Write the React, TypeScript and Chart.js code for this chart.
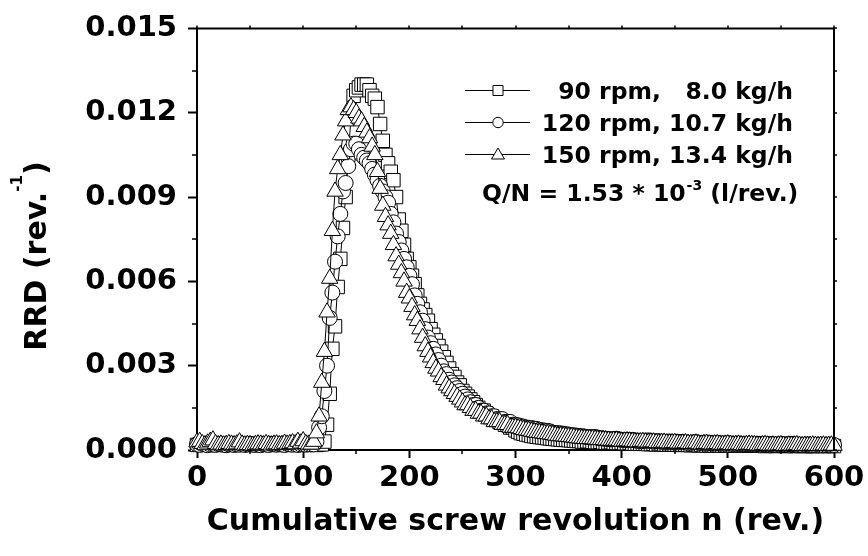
import React, { useEffect, useRef } from 'react';
import { Chart, registerables } from 'chart.js';

Chart.register(...registerables);

// Cumulative screw revolution n (rev.)
const REV = [
  0, 2.5, 5, 7.5, 10, 12.5, 15, 17.5, 20, 22.5,
  25, 27.5, 30, 32.5, 35, 37.5, 40, 42.5, 45, 47.5,
  50, 52.5, 55, 57.5, 60, 62.5, 65, 67.5, 70, 72.5,
  75, 77.5, 80, 82.5, 85, 87.5, 90, 92.5, 95, 97.5,
  100, 102.5, 105,
  107.5, 110, 112.5, 115, 117.5, 120, 122.5, 125, 127.5, 130,
  132.5, 135, 137.5, 140, 142.5, 145, 147.5, 150, 152.5, 155,
  157.5, 160, 162.5, 165, 167.5, 170, 172.5, 175, 177.5, 180,
  182.5, 185, 187.5, 190, 192.5, 195, 197.5, 200, 202.5, 205,
  207.5, 210, 212.5, 215, 217.5, 220, 222.5, 225, 227.5, 230,
  232.5, 235, 237.5, 240, 242.5, 245, 247.5, 250, 252.5, 255,
  257.5, 260, 262.5, 265, 267.5, 270, 272.5, 275, 277.5, 280,
  282.5, 285, 287.5, 290, 292.5, 295, 297.5, 300,
  302.5, 305, 307.5, 310, 312.5, 315, 317.5, 320, 322.5, 325,
  327.5, 330, 332.5, 335, 337.5, 340, 342.5, 345, 347.5, 350,
  352.5, 355, 357.5, 360, 362.5, 365, 367.5, 370, 372.5, 375,
  377.5, 380, 382.5, 385, 387.5, 390, 392.5, 395, 397.5, 400,
  402.5, 405, 407.5, 410, 412.5, 415, 417.5, 420, 422.5, 425,
  427.5, 430, 432.5, 435, 437.5, 440, 442.5, 445, 447.5, 450,
  452.5, 455, 457.5, 460, 462.5, 465, 467.5, 470, 472.5, 475,
  477.5, 480, 482.5, 485, 487.5, 490, 492.5, 495, 497.5, 500,
  502.5, 505, 507.5, 510, 512.5, 515, 517.5, 520, 522.5, 525,
  527.5, 530, 532.5, 535, 537.5, 540, 542.5, 545, 547.5, 550,
  552.5, 555, 557.5, 560, 562.5, 565, 567.5, 570, 572.5, 575,
  577.5, 580, 582.5, 585, 587.5, 590, 592.5, 595, 597.5, 600,
];

// 90 rpm, 8.0 kg/h (squares)
const RRD_90 = [
  0.00018, 0.0002, 0.00019, 0.00021, 0.0002, 0.00018, 0.00019, 0.0002, 0.00022, 0.00019,
  0.0002, 0.00018, 0.00021, 0.0002, 0.00019, 0.00018, 0.0002, 0.00021, 0.00019, 0.0002,
  0.00018, 0.00021, 0.0002, 0.00019, 0.00022, 0.0002, 0.00018, 0.00019, 0.0002, 0.00021,
  0.00019, 0.0002, 0.00018, 0.00021, 0.0002, 0.00019, 0.00022, 0.0002, 0.00018, 0.00019,
  0.0002, 0.00021, 0.00019,
  0.0002, 0.0002, 0.00018, 0.0002, 0.0002, 0.0003, 0.0009, 0.002, 0.0036, 0.0044,
  0.0058, 0.0068, 0.0079, 0.009, 0.0105, 0.0118, 0.0126, 0.0128, 0.0129, 0.013,
  0.013, 0.013, 0.0128, 0.0126, 0.0125, 0.0122, 0.0116, 0.011, 0.0105, 0.0102,
  0.0099, 0.0096, 0.009, 0.0082, 0.0078, 0.0073, 0.0068, 0.0065, 0.0062, 0.0059,
  0.0055, 0.0052, 0.005, 0.0048, 0.0046, 0.0043, 0.0041, 0.0039, 0.0037, 0.0035,
  0.0033, 0.0031, 0.0029, 0.0027, 0.0026, 0.0024, 0.0023, 0.0021, 0.002, 0.0019,
  0.0018, 0.0017, 0.0016, 0.0015, 0.0014, 0.0014, 0.0013, 0.0012, 0.0012, 0.0011,
  0.0011, 0.001, 0.001, 0.0009, 0.0009, 0.0008, 0.0008, 0.0007,
  0.00065, 0.0006, 0.00058, 0.00055, 0.00053, 0.0005, 0.00049, 0.00047, 0.00046, 0.00045,
  0.00044, 0.00042, 0.00041, 0.0004, 0.00039, 0.00038, 0.00037, 0.00036, 0.00036, 0.00035,
  0.00034, 0.00033, 0.00032, 0.00032, 0.0003, 0.0003, 0.00031, 0.00031, 0.00029, 0.00028,
  0.00028, 0.00029, 0.00027, 0.00026, 0.00027, 0.00028, 0.00026, 0.00025, 0.00025, 0.00026,
  0.00024, 0.00024, 0.00025, 0.00023, 0.00022, 0.00023, 0.00022, 0.00022, 0.00023, 0.00021,
  0.00021, 0.00022, 0.0002, 0.00021, 0.00021, 0.0002, 0.00019, 0.0002, 0.0002, 0.00019,
  0.00019, 0.00018, 0.00019, 0.00019, 0.00018, 0.00017, 0.00018, 0.00018, 0.00017, 0.00018,
  0.00017, 0.00016, 0.00017, 0.00017, 0.00016, 0.00017, 0.00016, 0.00016, 0.00017, 0.00015,
  0.00016, 0.00016, 0.00015, 0.00016, 0.00015, 0.00016, 0.00016, 0.00015, 0.00016, 0.00015,
  0.00015, 0.00016, 0.00015, 0.00014, 0.00016, 0.00015, 0.00015, 0.00014, 0.00015, 0.00016,
  0.00015, 0.00014, 0.00015, 0.00016, 0.00014, 0.00015, 0.00015, 0.00014, 0.00015, 0.00014,
  0.00015, 0.00014, 0.00014, 0.00015, 0.00016, 0.00014, 0.00015, 0.00014, 0.00015, 0.00014,
];

// 120 rpm, 10.7 kg/h (circles)
const RRD_120 = [
  0.0002, 0.00018, 0.00022, 0.0002, 0.00017, 0.00019, 0.0002, 0.00018, 0.00021, 0.0002,
  0.00019, 0.00017, 0.0002, 0.00022, 0.00018, 0.0002, 0.00019, 0.00021, 0.00018, 0.0002,
  0.00022, 0.00019, 0.00018, 0.0002, 0.00017, 0.00021, 0.0002, 0.00018, 0.00022, 0.0002,
  0.00019, 0.00021, 0.0002, 0.00018, 0.00022, 0.0002, 0.00019, 0.00021, 0.00018, 0.0002,
  0.00021, 0.00019, 0.0002,
  0.0002, 0.0002, 0.0003, 0.0008, 0.0012, 0.0021, 0.003, 0.0047, 0.0056, 0.0067,
  0.0076, 0.0084, 0.0092, 0.0095, 0.0101, 0.0107, 0.0109, 0.0109, 0.0107, 0.0105,
  0.0104, 0.0103, 0.0102, 0.01, 0.0098, 0.0096, 0.0094, 0.0092, 0.009, 0.0088,
  0.0084, 0.0081, 0.0077, 0.0074, 0.0071, 0.0068, 0.0065, 0.0062, 0.0059, 0.0055,
  0.0052, 0.0049, 0.0046, 0.0043, 0.004, 0.0038, 0.0036, 0.0034, 0.0032, 0.003,
  0.0028, 0.0027, 0.0025, 0.0024, 0.0023, 0.0022, 0.0021, 0.002, 0.0019, 0.0018,
  0.0017, 0.0016, 0.0016, 0.0015, 0.0014, 0.0014, 0.0013, 0.0013, 0.0012, 0.0012,
  0.0011, 0.0011, 0.0011, 0.001, 0.001, 0.001, 0.0009, 0.0009,
  0.00088, 0.00085, 0.00083, 0.0008, 0.00079, 0.00078, 0.00076, 0.00075, 0.00072, 0.0007,
  0.00069, 0.00068, 0.00066, 0.00062, 0.0006, 0.0006, 0.00059, 0.00058, 0.00056, 0.00055,
  0.00053, 0.00052, 0.00051, 0.0005, 0.00049, 0.00048, 0.00046, 0.00045, 0.00046, 0.00046,
  0.00044, 0.00042, 0.00041, 0.0004, 0.00039, 0.00038, 0.00039, 0.0004, 0.00038, 0.00036,
  0.00035, 0.00035, 0.00036, 0.00036, 0.00034, 0.00033, 0.00032, 0.00032, 0.00033, 0.00034,
  0.00032, 0.0003, 0.00031, 0.00031, 0.0003, 0.00029, 0.00029, 0.0003, 0.00029, 0.00028,
  0.00029, 0.00029, 0.00028, 0.00027, 0.00026, 0.00026, 0.00027, 0.00028, 0.00026, 0.00025,
  0.00026, 0.00026, 0.00025, 0.00024, 0.00024, 0.00025, 0.00024, 0.00023, 0.00023, 0.00024,
  0.00023, 0.00022, 0.00022, 0.00023, 0.00022, 0.00021, 0.00021, 0.00022, 0.00021, 0.0002,
  0.00021, 0.00022, 0.00021, 0.0002, 0.0002, 0.00021, 0.0002, 0.00019, 0.0002, 0.00021,
  0.0002, 0.0002, 0.00021, 0.00022, 0.0002, 0.00019, 0.00019, 0.00018, 0.00019, 0.0002,
  0.00019, 0.00018, 0.00018, 0.00019, 0.00018, 0.00017, 0.00018, 0.00019, 0.00018, 0.00018,
];

// 150 rpm, 13.4 kg/h (triangles)
const RRD_150 = [
  0.00028, 0.0003, 0.00022, 0.00018, 0.00024, 0.0003, 0.00035, 0.00022, 0.00018, 0.0002,
  0.00017, 0.00019, 0.00022, 0.0002, 0.00018, 0.00021, 0.00028, 0.0002, 0.00017, 0.00019,
  0.00018, 0.00016, 0.00019, 0.00021, 0.0002, 0.00018, 0.00022, 0.00019, 0.00017, 0.0002,
  0.00021, 0.00018, 0.00019, 0.00023, 0.0002, 0.00022, 0.00025, 0.00021, 0.0003, 0.00024,
  0.00032, 0.00022, 0.0002,
  0.0002, 0.0003, 0.0006, 0.0012, 0.0024, 0.0035, 0.0049, 0.0061, 0.0078, 0.0092,
  0.01, 0.0105, 0.0112, 0.0117, 0.0121, 0.0122, 0.0121, 0.012, 0.0118, 0.0117,
  0.0115, 0.0113, 0.0111, 0.0108, 0.0105, 0.0099, 0.0093, 0.0087, 0.0083, 0.008,
  0.0077, 0.0073, 0.0069, 0.0066, 0.0063, 0.006, 0.0056, 0.0054, 0.0051, 0.0048,
  0.0046, 0.0043, 0.004, 0.0037, 0.0035, 0.0033, 0.0031, 0.0029, 0.0028, 0.0026,
  0.0025, 0.0023, 0.0022, 0.0021, 0.002, 0.0019, 0.0018, 0.0017, 0.0016, 0.0016,
  0.0015, 0.0014, 0.0014, 0.0013, 0.0013, 0.0012, 0.0012, 0.0011, 0.0011, 0.001,
  0.001, 0.001, 0.0009, 0.0009, 0.0009, 0.0008, 0.0008, 0.0008,
  0.00078, 0.00075, 0.00072, 0.0007, 0.00069, 0.00066, 0.00064, 0.00062, 0.00061, 0.0006,
  0.00058, 0.00057, 0.00056, 0.00054, 0.00052, 0.0005, 0.0005, 0.00049, 0.00048, 0.00047,
  0.00046, 0.00045, 0.00043, 0.00042, 0.00041, 0.0004, 0.0004, 0.0004, 0.00039, 0.00038,
  0.00037, 0.00036, 0.00036, 0.00035, 0.00034, 0.00033, 0.00034, 0.00034, 0.00032, 0.0003,
  0.00031, 0.00032, 0.00031, 0.0003, 0.00029, 0.00028, 0.00029, 0.0003, 0.00028, 0.00027,
  0.00028, 0.00028, 0.00026, 0.00025, 0.00026, 0.00027, 0.00025, 0.00024, 0.00025, 0.00026,
  0.00024, 0.00023, 0.00024, 0.00025, 0.00023, 0.00022, 0.00023, 0.00024, 0.00021, 0.0002,
  0.00022, 0.00023, 0.00021, 0.0002, 0.00021, 0.00022, 0.0002, 0.00019, 0.0002, 0.00021,
  0.00019, 0.00018, 0.00019, 0.0002, 0.00018, 0.00017, 0.00019, 0.0002, 0.00019, 0.00018,
  0.00017, 0.00016, 0.00018, 0.00019, 0.00017, 0.00016, 0.00017, 0.00016, 0.00017, 0.00018,
  0.00016, 0.00015, 0.00017, 0.00016, 0.00017, 0.00018, 0.00016, 0.00015, 0.00016, 0.00015,
  0.00016, 0.00017, 0.00016, 0.00015, 0.00016, 0.00017, 0.00015, 0.00016, 0.00017, 0.00016,
];

const X_TICKS = [0, 100, 200, 300, 400, 500, 600];
const X_MINOR = [50, 150, 250, 350, 450, 550];
const Y_TICKS = [0, 0.003, 0.006, 0.009, 0.012, 0.015];
const Y_MINOR = [0.0015, 0.0045, 0.0075, 0.0105, 0.0135];

const SERIES_LABELS = ['90 rpm,   8.0 kg/h', '120 rpm, 10.7 kg/h', '150 rpm, 13.4 kg/h'];
const SERIES_STYLES = ['rect', 'circle', 'triangle'];
const NOTE_MAIN = 'Q/N = 1.53 * 10';
const NOTE_SUP = '-3';
const NOTE_TAIL = ' (l/rev.)';
const X_TITLE = 'Cumulative screw revolution n (rev.)';
const Y_TITLE_MAIN = 'RRD (rev.';
const Y_TITLE_SUP = '-1';
const Y_TITLE_TAIL = ')';

const FONT = '"DejaVu Sans", "Liberation Sans", Arial, sans-serif';

const toPoints = (ys: number[]) =>
  ys.map((y, i) => ({ x: REV[i], y })).filter((p) => p.x !== undefined);

function drawSymbol(ctx: CanvasRenderingContext2D, style: string, cx: number, cy: number) {
  ctx.beginPath();
  if (style === 'rect') {
    ctx.rect(cx - 5, cy - 5, 10, 10);
  } else if (style === 'circle') {
    ctx.arc(cx, cy, 5.2, 0, Math.PI * 2);
  } else {
    ctx.moveTo(cx, cy - 6.5);
    ctx.lineTo(cx + 6.5, cy + 4.5);
    ctx.lineTo(cx - 6.5, cy + 4.5);
    ctx.closePath();
  }
  ctx.fillStyle = '#fff';
  ctx.fill();
  ctx.strokeStyle = '#000';
  ctx.lineWidth = 1;
  ctx.stroke();
}

const decorPlugin = {
  id: 'decor',
  afterDraw(chart: any) {
    const { ctx, chartArea, scales } = chart;
    const xs = scales.x;
    const ys = scales.y;
    const { left, right, top, bottom } = chartArea;
    ctx.save();
    ctx.strokeStyle = '#000';
    ctx.fillStyle = '#000';

    // top and right frame
    ctx.lineWidth = 2;
    ctx.beginPath();
    ctx.moveTo(left - 1, top);
    ctx.lineTo(right, top);
    ctx.lineTo(right, bottom + 1);
    ctx.stroke();

    // minor ticks bottom / left
    ctx.lineWidth = 1.5;
    ctx.beginPath();
    X_MINOR.forEach((v) => {
      const px = Math.round(xs.getPixelForValue(v));
      ctx.moveTo(px, bottom);
      ctx.lineTo(px, bottom + 4);
    });
    Y_MINOR.forEach((v) => {
      const py = Math.round(ys.getPixelForValue(v));
      ctx.moveTo(left, py);
      ctx.lineTo(left - 5, py);
    });
    // small ticks on top / right
    [...X_TICKS, ...X_MINOR].forEach((v) => {
      const px = Math.round(xs.getPixelForValue(v));
      ctx.moveTo(px, top);
      ctx.lineTo(px, top - 3);
    });
    [...Y_TICKS, ...Y_MINOR].forEach((v) => {
      const py = Math.round(ys.getPixelForValue(v));
      ctx.moveTo(right, py);
      ctx.lineTo(right + 3, py);
    });
    ctx.stroke();

    // y axis title with superscript
    const mainFont = `bold 30px ${FONT}`;
    const supFont = `bold 15px ${FONT}`;
    ctx.font = mainFont;
    const w1 = ctx.measureText(Y_TITLE_MAIN).width;
    const w3 = ctx.measureText(Y_TITLE_TAIL).width;
    ctx.font = supFont;
    const w2 = ctx.measureText(Y_TITLE_SUP).width;
    const total = w1 + w2 + w3;
    ctx.save();
    ctx.translate(46, 256);
    ctx.rotate(-Math.PI / 2);
    ctx.textAlign = 'left';
    ctx.textBaseline = 'alphabetic';
    let tx = -total / 2;
    ctx.font = mainFont;
    ctx.fillText(Y_TITLE_MAIN, tx, 0);
    tx += w1;
    ctx.font = supFont;
    ctx.fillText(Y_TITLE_SUP, tx, -24);
    tx += w2;
    ctx.font = mainFont;
    ctx.fillText(Y_TITLE_TAIL, tx, 0);
    ctx.restore();

    // legend
    const rowBase = [98.5, 130.5, 162.5];
    SERIES_LABELS.forEach((label, i) => {
      const cy = rowBase[i] - 8.5;
      ctx.lineWidth = 1;
      ctx.strokeStyle = '#000';
      ctx.beginPath();
      ctx.moveTo(465, Math.round(cy) + 0.5);
      ctx.lineTo(530, Math.round(cy) + 0.5);
      ctx.stroke();
      drawSymbol(ctx, SERIES_STYLES[i], 498, Math.round(cy) + 0.5);
      ctx.fillStyle = '#000';
      ctx.font = `bold 23.5px ${FONT}`;
      ctx.textAlign = 'right';
      ctx.textBaseline = 'alphabetic';
      ctx.fillText(label, 793, rowBase[i]);
    });

    // Q/N note
    ctx.textAlign = 'left';
    ctx.textBaseline = 'alphabetic';
    ctx.font = `bold 23.5px ${FONT}`;
    let nx = 482;
    ctx.fillText(NOTE_MAIN, nx, 201);
    nx += ctx.measureText(NOTE_MAIN).width + 1;
    ctx.font = `bold 14px ${FONT}`;
    ctx.fillText(NOTE_SUP, nx, 190);
    nx += ctx.measureText(NOTE_SUP).width;
    ctx.font = `bold 23.5px ${FONT}`;
    ctx.fillText(NOTE_TAIL, nx, 201);

    ctx.restore();
  },
};

export default function App() {
  const ref = useRef<HTMLCanvasElement | null>(null);

  useEffect(() => {
    if (!ref.current) return;
    const common = {
      showLine: true,
      borderColor: '#000',
      borderWidth: 1,
      backgroundColor: '#fff',
      pointBackgroundColor: '#fff',
      pointBorderColor: '#000',
      pointBorderWidth: 1,
      tension: 0,
      fill: false,
      clip: false as any,
    };
    const tickFont = { family: FONT, size: 29, weight: 'bold' as const };
    const chart = new Chart(ref.current, {
      type: 'scatter',
      data: {
        datasets: [
          { ...common, label: SERIES_LABELS[0], data: toPoints(RRD_90), pointStyle: 'rect', pointRadius: 9.5, order: 3 },
          { ...common, label: SERIES_LABELS[1], data: toPoints(RRD_120), pointStyle: 'circle', pointRadius: 7.5, order: 2 },
          { ...common, label: SERIES_LABELS[2], data: toPoints(RRD_150), pointStyle: 'triangle', pointRadius: 9.5, order: 1 },
        ],
      },
      options: {
        responsive: false,
        animation: false,
        events: [],
        layout: { padding: { top: 25, right: 34, left: 0, bottom: 0 } },
        plugins: { legend: { display: false }, tooltip: { enabled: false } },
        scales: {
          x: {
            type: 'linear',
            min: 0,
            max: 600,
            afterBuildTicks: (s: any) => {
              s.ticks = X_TICKS.map((v) => ({ value: v }));
            },
            afterFit: (s: any) => {
              s.height = 106;
            },
            ticks: {
              font: tickFont,
              color: '#000',
              padding: 3,
              maxRotation: 0,
              autoSkip: false,
              callback: (v: any) => String(v),
            },
            grid: {
              display: true,
              drawOnChartArea: false,
              drawTicks: true,
              tickLength: 8,
              tickWidth: 2,
              tickColor: '#000',
              color: '#000',
            },
            border: { display: true, color: '#000', width: 2 },
            title: {
              display: true,
              text: X_TITLE,
              color: '#000',
              font: { family: FONT, size: 30, weight: 'bold' },
              padding: { top: 0, bottom: 16 },
            },
          },
          y: {
            type: 'linear',
            min: 0,
            max: 0.015,
            afterBuildTicks: (s: any) => {
              s.ticks = Y_TICKS.map((v) => ({ value: v }));
            },
            afterFit: (s: any) => {
              s.width = 197;
            },
            ticks: {
              font: tickFont,
              color: '#000',
              padding: 11,
              autoSkip: false,
              callback: (v: any) => Number(v).toFixed(3),
            },
            grid: {
              display: true,
              drawOnChartArea: false,
              drawTicks: true,
              tickLength: 9,
              tickWidth: 2,
              tickColor: '#000',
              color: '#000',
            },
            border: { display: true, color: '#000', width: 2 },
          },
        },
      },
      plugins: [decorPlugin],
    } as any);
    return () => chart.destroy();
  }, []);

  return (
    <div style={{ position: 'fixed', left: 0, top: 0, width: 868, height: 556, background: '#fff' }}>
      <canvas ref={ref} width={868} height={556} style={{ display: 'block' }} />
    </div>
  );
}
